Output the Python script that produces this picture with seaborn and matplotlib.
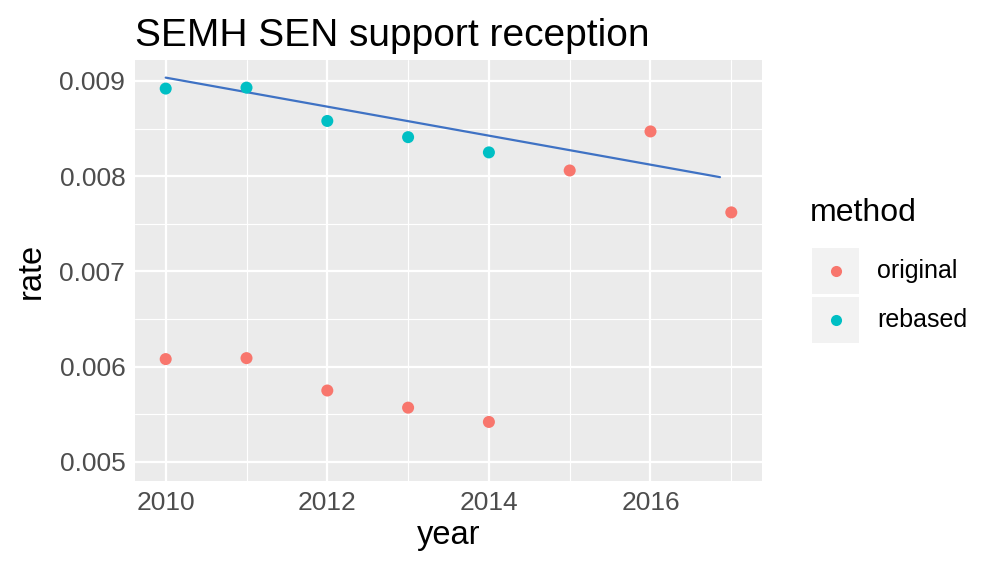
import numpy as np
import pandas as pd
import seaborn as sns
import matplotlib
matplotlib.use("Agg")
import matplotlib.pyplot as plt
from matplotlib.lines import Line2D
from matplotlib.patches import Rectangle
from matplotlib.ticker import MultipleLocator, FormatStrFormatter

# 데이터
years = [2010, 2011, 2012, 2013, 2014, 2015, 2016, 2017,
         2010, 2011, 2012, 2013, 2014]
rates = [0.00608, 0.00609, 0.00575, 0.00557, 0.00542, 0.00806, 0.00847, 0.00762,
         0.00892, 0.00893, 0.00858, 0.00841, 0.00825]
methods = ["original"] * 8 + ["rebased"] * 5

# 추세선 (양 끝점)
trend_year = [2010, 2016.86]
trend_rate = [0.009035, 0.00799]

palette = {"original": "#F8766D", "rebased": "#00BFC4"}

df = pd.DataFrame({"year": years, "rate": rates, "method": methods})

sns.set_style("white")
plt.rcParams["font.family"] = ["Liberation Sans", "DejaVu Sans"]
plt.rcParams["text.color"] = "black"

fig = plt.figure(figsize=(9.93, 5.63), dpi=100)
W, H = 993, 563
ax = fig.add_axes([135 / W, 1 - 481 / H, (762 - 135) / W, (481 - 60) / H])
ax.set_facecolor("#EBEBEB")

ax.set_xlim(2009.62, 2017.38)
ax.set_ylim(0.0048, 0.00922)
ax.xaxis.set_major_locator(MultipleLocator(2))
ax.xaxis.set_minor_locator(MultipleLocator(1))
ax.yaxis.set_major_locator(MultipleLocator(0.001))
ax.yaxis.set_minor_locator(MultipleLocator(0.0005))
ax.yaxis.set_major_formatter(FormatStrFormatter("%.3f"))
ax.grid(which="major", color="white", linewidth=1.6)
ax.grid(which="minor", color="white", linewidth=0.8)
ax.set_axisbelow(True)
for s in ax.spines.values():
    s.set_visible(False)

sns.lineplot(x=trend_year, y=trend_rate, ax=ax, color="#3F72C4", linewidth=1.6)
sns.scatterplot(data=df, x="year", y="rate", hue="method", palette=palette,
                s=75, edgecolor="none", ax=ax, legend=False, zorder=3)

ax.tick_params(which="major", length=4, width=1.2, color="#333333",
               labelsize=19, labelcolor="#4D4D4D", pad=3)
ax.tick_params(which="minor", length=0)
ax.set_xlabel("year", fontsize=23.5, color="black", labelpad=4)
ax.set_ylabel("rate", fontsize=23.5, color="black", labelpad=9)
ax.set_title("SEMH SEN support reception", fontsize=28, loc="left", pad=10,
             color="black")

# 범례
fig.text(810 / W, 1 - 213 / H, "method", fontsize=23, va="center", ha="left",
         color="black")
for i, m in enumerate(["original", "rebased"]):
    yc = 271 + i * 49
    fig.add_artist(Rectangle(((812) / W, 1 - (yc + 23) / H), 47 / W, 46 / H,
                             transform=fig.transFigure, color="#F2F2F2", lw=0))
    fig.add_artist(Line2D([835.5 / W], [1 - yc / H], marker="o", markersize=8,
                          color=palette[m], markeredgewidth=0,
                          transform=fig.transFigure))
    fig.text(877 / W, 1 - yc / H, m, fontsize=18, va="center", ha="left",
             color="black")

fig.savefig("out.png", dpi=100)
